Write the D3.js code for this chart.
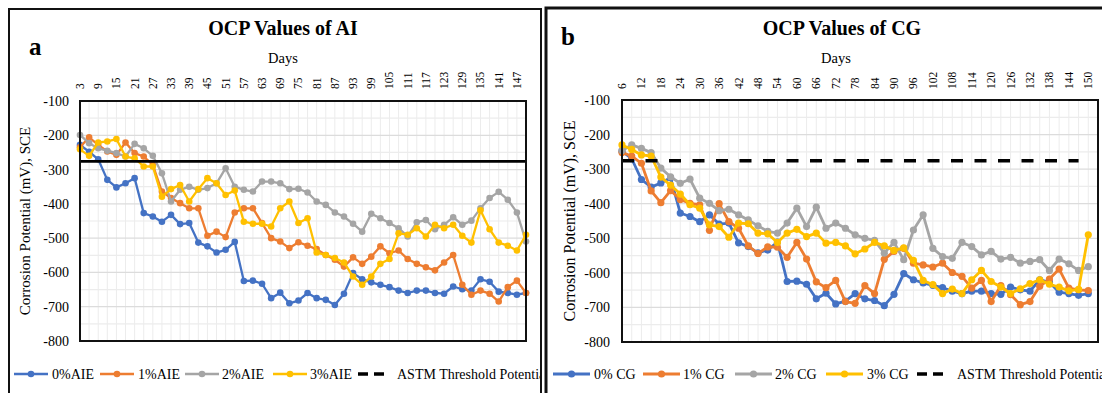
<!DOCTYPE html>
<html>
<head>
<meta charset="utf-8">
<script src="https://cdn.jsdelivr.net/npm/d3@7/dist/d3.min.js"></script>
<style>
  body { margin: 0; background: #fff; }
  svg text { font-family: "Liberation Serif", "DejaVu Serif", "Tinos", "Times New Roman", serif !important; fill: #000; }
</style>
</head>
<body>
<svg id="chart" width="1102" height="393"></svg>
<script>
// ---- data (mV vs SCE) ----
const daysAI = [3, 6, 9, 12, 15, 18, 21, 24, 27, 30, 33, 36, 39, 42, 45, 48, 51, 54, 57, 60,
  63, 66, 69, 72, 75, 78, 81, 84, 87, 90, 93, 96, 99, 102, 105, 108, 111, 114, 117, 120,
  123, 126, 129, 132, 135, 138, 141, 144, 147, 150];
// last category (153) is empty in the original sheet
const daysCG = [6, 9, 12, 15, 18, 21, 24, 27, 30, 33, 36, 39, 42, 45, 48, 51, 54, 57, 60, 63,
  66, 69, 72, 75, 78, 81, 84, 87, 90, 93, 96, 99, 102, 105, 108, 111, 114, 117, 120, 123,
  126, 129, 132, 135, 138, 141, 144, 147, 150, 153];

const labelsAI = [3, 9, 15, 21, 27, 33, 39, 45, 51, 57, 63, 69, 75, 81, 87, 93, 99, 105, 111, 117, 123, 129, 135, 141, 147];
const labelsCG = [6, 12, 18, 24, 30, 36, 42, 48, 54, 60, 66, 72, 78, 84, 90, 96, 102, 108, 114, 120, 126, 132, 138, 144, 150];
const yTicks = [-100, -200, -300, -400, -500, -600, -700, -800];

const aie0 = [-228, -248, -270, -330, -352, -340, -325, -427, -437, -452,
  -432, -459, -456, -513, -524, -542, -534, -511, -625, -624,
  -633, -675, -659, -690, -682, -660, -675, -680, -695, -662,
  -602, -620, -629, -636, -643, -653, -660, -653, -653, -660,
  -662, -641, -649, -653, -620, -627, -656, -660, -665, -660];
const aie1 = [-235, -206, -228, -247, -257, -221, -252, -262, -286, -364,
  -383, -398, -413, -413, -493, -481, -497, -425, -413, -413,
  -456, -500, -510, -529, -512, -522, -532, -549, -563, -583,
  -556, -575, -554, -524, -544, -536, -561, -575, -585, -594,
  -571, -549, -636, -665, -653, -662, -685, -643, -624, -660];
const aie2 = [-199, -223, -238, -245, -252, -262, -225, -238, -260, -311,
  -393, -359, -350, -359, -354, -340, -296, -350, -359, -364,
  -335, -335, -340, -357, -356, -367, -393, -403, -425, -437,
  -458, -481, -429, -442, -456, -471, -495, -454, -447, -474,
  -461, -439, -461, -449, -413, -383, -365, -388, -425, -510];
const aie3 = [-241, -260, -221, -218, -211, -262, -267, -291, -291, -379,
  -357, -345, -393, -357, -325, -340, -374, -361, -452, -458,
  -458, -466, -413, -393, -456, -442, -542, -549, -558, -571,
  -612, -636, -612, -575, -561, -486, -490, -471, -495, -461,
  -471, -461, -493, -513, -419, -474, -513, -522, -536, -490];

// 0% is the same plain control mix in both panels (starts at day 6 here)
const cg0 = aie0.slice(1);
const cg1 = [-252, -262, -283, -363, -397, -362, -388, -399, -403, -477,
  -400, -452, -471, -522, -544, -525, -526, -555, -512, -560,
  -626, -643, -622, -683, -688, -637, -660, -561, -538, -529,
  -572, -577, -583, -572, -599, -610, -644, -622, -683, -637,
  -663, -692, -683, -639, -618, -589, -644, -649, -651];
const cg2 = [-246, -230, -240, -252, -297, -322, -341, -329, -384, -399,
  -420, -416, -432, -447, -464, -480, -485, -456, -413, -466,
  -410, -471, -456, -471, -490, -500, -506, -543, -512, -562,
  -476, -432, -529, -553, -558, -512, -524, -548, -538, -560,
  -555, -572, -567, -562, -593, -560, -574, -593, -582];
const cg3 = [-230, -243, -259, -262, -323, -346, -372, -403, -413, -461,
  -466, -497, -456, -458, -485, -487, -512, -485, -474, -495,
  -485, -514, -512, -522, -545, -531, -512, -522, -535, -528,
  -564, -622, -634, -660, -647, -660, -620, -593, -625, -641,
  -660, -646, -631, -620, -633, -641, -652, -648, -490];

const thresholdValue = -276;
const thresholdEndCG = 147;

const namesAI = ['0%AIE', '1%AIE', '2%AIE', '3%AIE'];
const namesCG = ['0% CG', '1% CG', '2% CG', '3% CG'];
const colors = ['#4472C4', '#ED7D31', '#A5A5A5', '#FFC000'];

const svg = d3.select('#chart');

function drawPanel(p) {
  const g = svg.append('g');
  const clipId = 'clip-' + p.id;
  g.append('clipPath').attr('id', clipId)
    .append('rect').attr('x', p.frame[0]).attr('y', p.frame[1])
    .attr('width', p.frame[2]).attr('height', p.frame[3]);

  const x = d3.scalePoint().domain(p.days).range([p.left, p.right]);
  const y = d3.scaleLinear().domain([-800, -100]).range([p.bottom, p.top]);

  // gridlines
  g.append('g').selectAll('line').data(p.days).enter().append('line')
    .attr('x1', d => x(d)).attr('x2', d => x(d))
    .attr('y1', p.top).attr('y2', p.bottom)
    .attr('stroke', '#ececec').attr('stroke-width', 1);
  g.append('g').selectAll('line').data(d3.range(-800, -99, 50)).enter().append('line')
    .attr('x1', p.left).attr('x2', p.right)
    .attr('y1', d => y(d)).attr('y2', d => y(d))
    .attr('stroke', d => d % 100 === 0 ? '#dcdcdc' : '#ececec').attr('stroke-width', 1.2);

  // y axis
  const yAxis = g.append('g')
    .attr('transform', `translate(${p.left},0)`)
    .call(d3.axisLeft(y).tickValues(yTicks).tickFormat(d => String(d))
      .tickSize(0).tickPadding(p.yPad));
  yAxis.attr('font-family', null);
  yAxis.select('.domain').remove();
  yAxis.selectAll('text').style('font-size', '14px').attr('fill', '#000');

  // category labels along the top
  g.append('g').selectAll('text').data(p.labels).enter().append('text')
    .attr('transform', d => `translate(${x(d) + 4},89) rotate(-90)`)
    .attr('text-anchor', 'start')
    .style('font-size', '11.5px')
    .text(d => d);

  // series
  const line = d3.line().x(d => x(d.day)).y(d => y(d.v));
  p.series.forEach((vals, k) => {
    const pts = vals.map((v, i) => ({ day: p.days[i], v: v }));
    g.append('path').datum(pts)
      .attr('d', line)
      .attr('fill', 'none')
      .attr('stroke', colors[k])
      .attr('stroke-width', p.lw)
      .attr('stroke-linejoin', 'round');
    g.append('g').selectAll('circle').data(pts).enter().append('circle')
      .attr('cx', d => x(d.day)).attr('cy', d => y(d.v))
      .attr('r', p.r).attr('fill', colors[k]);
  });

  // ASTM threshold
  g.append('line')
    .attr('x1', x(p.days[0])).attr('x2', x(p.thEnd))
    .attr('y1', y(thresholdValue)).attr('y2', y(thresholdValue))
    .attr('stroke', '#000').attr('stroke-width', p.thWidth)
    .attr('stroke-dasharray', p.thDash);

  // plot border
  g.append('rect')
    .attr('x', p.left).attr('y', p.top)
    .attr('width', p.right - p.left).attr('height', p.bottom - p.top)
    .attr('fill', 'none').attr('stroke', '#111').attr('stroke-width', 2);

  // titles
  g.append('text').attr('x', p.titleX).attr('y', 35).attr('text-anchor', 'middle')
    .style('font-size', '20px').style('font-weight', 'bold').text(p.title);
  g.append('text').attr('x', p.letterX).attr('y', p.letterY)
    .style('font-size', '25px').style('font-weight', 'bold').text(p.letter);
  g.append('text').attr('x', p.daysX).attr('y', 63).attr('text-anchor', 'middle')
    .style('font-size', '14.5px').text('Days');
  g.append('text')
    .attr('transform', `translate(${p.yTitleX},${(p.top + p.bottom) / 2}) rotate(-90)`)
    .attr('text-anchor', 'middle')
    .style('font-size', p.yTitleSize).text('Corrosion Potential (mV), SCE');

  // legend (clipped by the panel frame, as in the original)
  const leg = g.append('g').attr('clip-path', `url(#${clipId})`);
  p.legend.forEach((item, k) => {
    const lg = leg.append('g').attr('transform', `translate(${item.x},374)`);
    if (k < 4) {
      lg.append('line').attr('x1', 0).attr('x2', p.swatch).attr('y1', 0).attr('y2', 0)
        .attr('stroke', colors[k]).attr('stroke-width', p.lw);
      lg.append('circle').attr('cx', p.swatch / 2).attr('cy', 0).attr('r', p.r).attr('fill', colors[k]);
    } else {
      lg.append('line').attr('x1', 0).attr('x2', p.swatch - 6).attr('y1', 0).attr('y2', 0)
        .attr('stroke', '#000').attr('stroke-width', 3.5).attr('stroke-dasharray', '10,6');
    }
    lg.append('text').attr('x', item.tx).attr('y', 5)
      .style('font-size', '14px').text(item.name);
  });

  // frame
  g.append('rect')
    .attr('x', p.frame[0]).attr('y', p.frame[1])
    .attr('width', p.frame[2]).attr('height', p.frame[3])
    .attr('fill', 'none').attr('stroke', '#111').attr('stroke-width', p.frameW);
}

drawPanel({
  id: 'a', days: daysAI, labels: labelsAI,
  series: [aie0, aie1, aie2, aie3],
  left: 80, right: 526, top: 101, bottom: 341, yPad: 11,
  lw: 2.3, r: 3.3,
  thEnd: 150, thWidth: 2.6, thDash: null,
  title: 'OCP Values of AI', titleX: 283, letter: 'a', letterX: 29, letterY: 55,
  daysX: 283, yTitleX: 30, yTitleSize: '15px',
  frame: [9, 9, 532, 400], frameW: 2, swatch: 34,
  legend: [
    { name: namesAI[0], x: 14, tx: 38 },
    { name: namesAI[1], x: 100, tx: 38 },
    { name: namesAI[2], x: 185, tx: 37 },
    { name: namesAI[3], x: 273, tx: 37 },
    { name: 'ASTM Threshold Potential', x: 358, tx: 39 }
  ]
});

drawPanel({
  id: 'b', days: daysCG, labels: labelsCG,
  series: [cg0, cg1, cg2, cg3],
  left: 622, right: 1098, top: 100, bottom: 342, yPad: 12,
  lw: 2.8, r: 3.6,
  thEnd: thresholdEndCG, thWidth: 3.5, thDash: '12,11.5',
  title: 'OCP Values of CG', titleX: 842, letter: 'b', letterX: 561, letterY: 45,
  daysX: 836, yTitleX: 575, yTitleSize: '16px',
  frame: [546, 8, 600, 400], frameW: 3, swatch: 37,
  legend: [
    { name: namesCG[0], x: 553, tx: 41 },
    { name: namesCG[1], x: 643, tx: 40 },
    { name: namesCG[2], x: 735, tx: 40 },
    { name: namesCG[3], x: 826, tx: 41 },
    { name: 'ASTM Threshold Potential', x: 917, tx: 40 }
  ]
});
</script>
</body>
</html>
